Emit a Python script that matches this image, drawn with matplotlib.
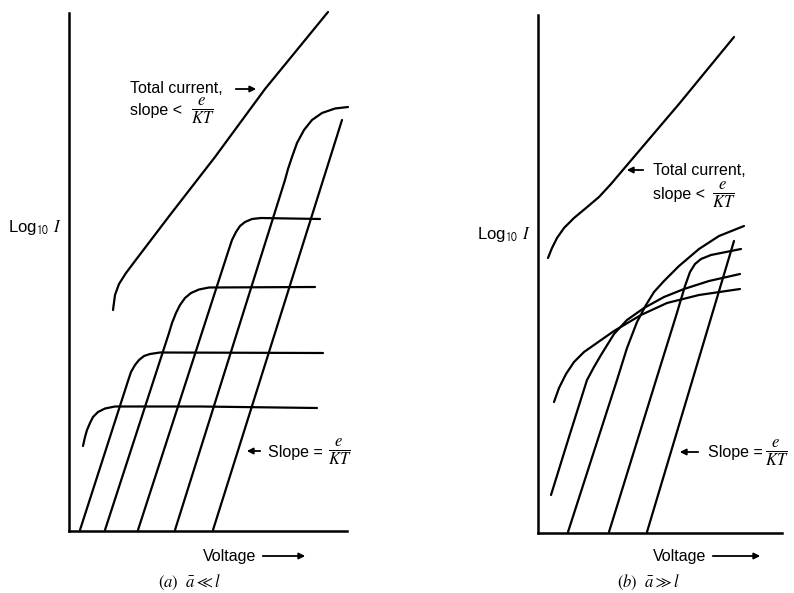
import matplotlib
matplotlib.use('Agg')
import matplotlib.pyplot as plt

# 坐标单位为任意单位（电压 / log I），原点在坐标轴交点
# (a) a << l
a_total_v = [44, 46, 50, 57, 66, 101, 146, 196, 259]
a_total_i = [221, 236, 247, 258, 270, 316, 374, 442, 519]

a_c1_v = [14, 16, 18, 21, 24, 29, 36, 46, 131, 248]
a_c1_i = [85, 94, 101, 108, 114, 119, 122.5, 124.5, 124.5, 123]
a_c2_v = [11, 59, 62, 66, 70, 75, 81, 91, 254]
a_c2_i = [1, 150, 159, 166, 171, 175, 177, 178.5, 178]
a_c3_v = [36, 100, 103, 107, 111, 116, 122, 130, 140, 246]
a_c3_i = [1, 198, 208, 218, 226, 233, 238, 241.5, 243.5, 244]
a_c4_v = [69, 160, 163, 167, 171, 176, 183, 192, 251]
a_c4_i = [1, 282, 291, 299, 305, 309, 312, 313, 312]
a_c5_v = [106, 216, 219, 223, 228, 235, 243, 253, 266, 279]
a_c5_i = [1, 351, 362, 374, 388, 401, 411, 418, 422.5, 424]
a_line_v = [144, 273]
a_line_i = [1, 411]

# (b) a >> l
b_total_v = [10, 14, 19, 26, 36, 48, 61, 73, 84, 141, 196]
b_total_i = [275, 285, 295, 305, 315, 325, 336, 349, 362, 429, 496]

b_c1_v = [16, 21, 28, 36, 46, 56, 76, 103, 129, 161, 202]
b_c1_i = [131, 145, 159, 171, 181, 188, 202, 218, 230, 238, 244]
b_c2_v = [13, 31, 49, 56, 63, 76, 89, 106, 126, 146, 171, 202]
b_c2_i = [38, 96, 153, 166, 178, 199, 213, 225, 236, 244, 252, 259]
b_c3_v = [30, 79, 89, 99, 108, 116, 126, 141, 161, 181, 206]
b_c3_i = [1, 153, 185, 211, 228, 241, 252, 267, 284, 297, 307]
b_c4_v = [71, 119, 138, 147, 152, 157, 163, 173, 188, 203]
b_c4_i = [1, 156, 217, 247, 261, 269, 274, 278, 281, 284]
b_line_v = [109, 196]
b_line_i = [1, 292]

W, H = 794, 593
plt.rcParams['font.family'] = ['Liberation Sans', 'DejaVu Sans']
plt.rcParams['mathtext.fontset'] = 'stix'

fig = plt.figure(figsize=(W / 100, H / 100), dpi=100)


def make_axes(left, bottom, width, height):
    ax = fig.add_axes([left / W, (H - bottom) / H, width / W, height / H])
    ax.set_xlim(0, width)
    ax.set_ylim(0, height)
    for s in ['top', 'right']:
        ax.spines[s].set_visible(False)
    for s in ['left', 'bottom']:
        ax.spines[s].set_linewidth(1.8)
    ax.set_xticks([])
    ax.set_yticks([])
    ax.patch.set_alpha(0)
    return ax


def put(x, y, s, size=11.5, **kw):
    fig.text(x / W, 1 - y / H, s, fontsize=size, va='center', **kw)


def frac(x, y):
    put(x, y, r'$\frac{e}{KT}$', size=17, ha='center')


def arrow(x0, y0, x1, y1):
    fig.add_artist(matplotlib.patches.FancyArrowPatch(
        (x0 / W, 1 - y0 / H), (x1 / W, 1 - y1 / H),
        transform=fig.transFigure, arrowstyle='-|>', mutation_scale=9,
        lw=1.3, color='black'))


lw = 1.6
ax1 = make_axes(69, 531, 278, 518)
for v, i in [(a_total_v, a_total_i), (a_c1_v, a_c1_i), (a_c2_v, a_c2_i),
             (a_c3_v, a_c3_i), (a_c4_v, a_c4_i), (a_c5_v, a_c5_i),
             (a_line_v, a_line_i)]:
    ax1.plot(v, i, color='black', lw=lw, clip_on=False, solid_capstyle='round')

ax2 = make_axes(538, 533, 244, 518)
for v, i in [(b_total_v, b_total_i), (b_c1_v, b_c1_i), (b_c2_v, b_c2_i),
             (b_c3_v, b_c3_i), (b_c4_v, b_c4_i), (b_line_v, b_line_i)]:
    ax2.plot(v, i, color='black', lw=lw, clip_on=False, solid_capstyle='round')

# 左图标注
put(130, 88, 'Total current,')
put(130, 111, 'slope <')
frac(203, 111)
arrow(233, 89, 259, 89)
put(8, 228, r'Log$_{\mathsf{10}}$ $I$', size=12)
put(268, 452, 'Slope =')
frac(340, 452)
arrow(263, 451, 244, 451)
put(203, 556, 'Voltage')
arrow(260, 556, 308, 556)
put(189, 582, r'$(a)\ \ \bar{a} \ll l$', size=12, ha='center')

# 右图标注
put(653, 170, 'Total current,')
put(653, 195, 'slope <')
frac(724, 195)
arrow(646, 170, 624, 170)
put(477, 235, r'Log$_{\mathsf{10}}$ $I$', size=12)
put(708, 453, 'Slope =')
frac(777, 453)
arrow(701, 452, 677, 452)
put(653, 556, 'Voltage')
arrow(710, 556, 763, 556)
put(648, 582, r'$(b)\ \ \bar{a} \gg l$', size=12, ha='center')

fig.savefig('out.png', dpi=100)
